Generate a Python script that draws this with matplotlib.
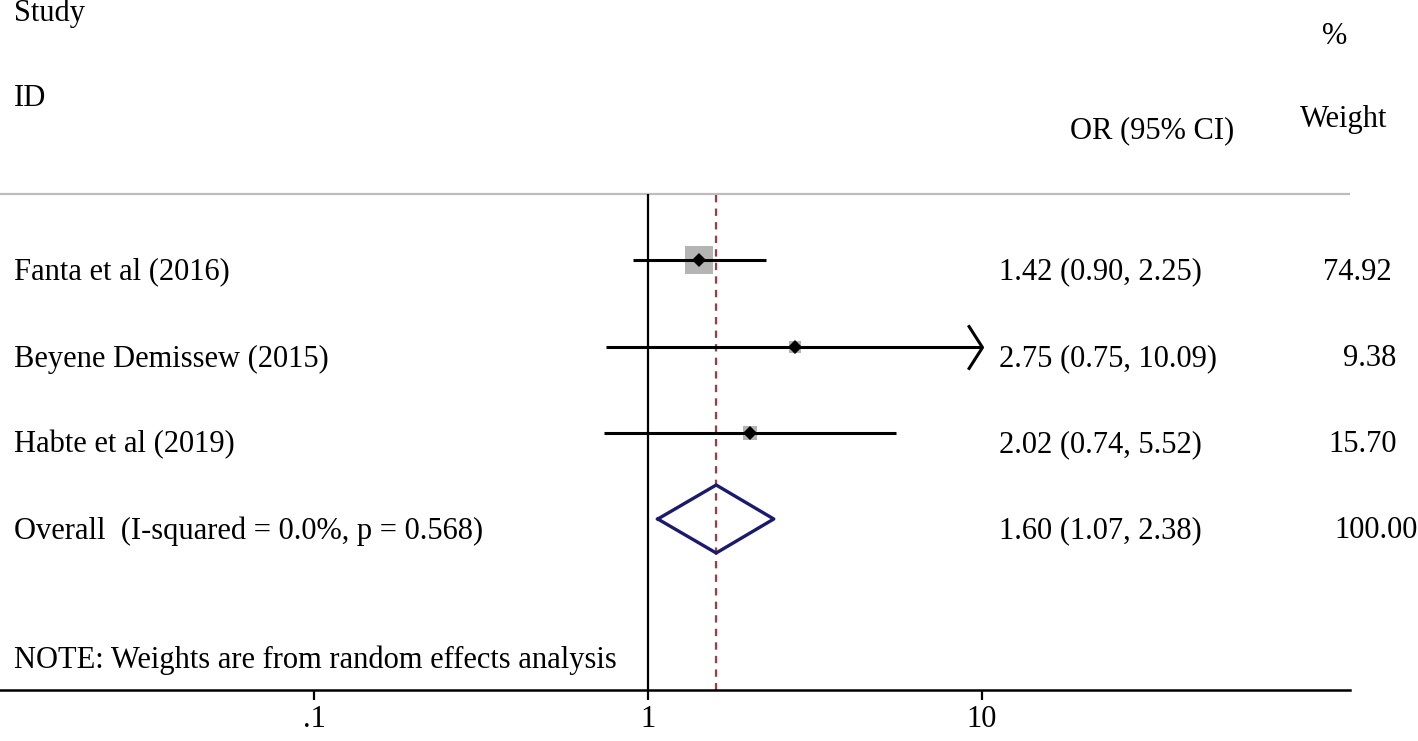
import numpy as np
import matplotlib
matplotlib.use('Agg')
import matplotlib.pyplot as plt

# Data
studies = ['Fanta et al (2016)', 'Beyene Demissew (2015)', 'Habte et al (2019)']
odds_ratio = [1.42, 2.75, 2.02]
ci_low = [0.90, 0.75, 0.74]
ci_high = [2.25, 10.09, 5.52]
weights = [74.92, 9.38, 15.70]
overall_label = 'Overall  (I-squared = 0.0%, p = 0.568)'
overall_or = 1.60
overall_low = 1.07
overall_high = 2.38
overall_weight = 100.00
tick_values = [0.1, 1, 10]
tick_labels = ['.1', '1', '10']

W, H = 1418, 741
plt.rcParams['font.family'] = ['Liberation Serif', 'DejaVu Serif']
fs = 22

fig = plt.figure(figsize=(W / 100, H / 100), dpi=100)
# axes: x in odds ratio (log), y in pixels from the top, bottom spine at y=690
ax = fig.add_axes([0, (H - 690) / H, 1, 690 / H])
ax.set_xscale('log')
decade = 334.0
x0 = 648.0
ax.set_xlim(10 ** (-x0 / decade), 10 ** ((W - x0) / decade))
ax.set_ylim(690, 0)
ax.patch.set_alpha(0)

for s in ['top', 'left', 'right']:
    ax.spines[s].set_visible(False)
ax.spines['bottom'].set_linewidth(1.8)
ax.spines['bottom'].set_bounds(10 ** (-x0 / decade), 10 ** ((1350 - x0) / decade))
ax.set_xticks(tick_values)
ax.set_xticklabels(tick_labels)
ax.xaxis.set_minor_locator(matplotlib.ticker.NullLocator())
ax.tick_params(axis='x', length=7, width=1.6, pad=4, labelsize=fs)
ax.set_yticks([])

def px(x, y):
    return x / W, 1 - y / H

# header
fig.text(*px(14, 13), 'Study', fontsize=fs, va='center', ha='left')
fig.text(*px(14, 99), 'ID', fontsize=fs, va='center', ha='left')
fig.text(*px(1335, 37), '%', fontsize=fs, va='center', ha='center')
fig.text(*px(1344, 120), 'Weight', fontsize=fs, va='center', ha='center')
fig.text(*px(1070, 131), 'OR (95% CI)', fontsize=fs, va='center', ha='left')
ax.hlines(194, 10 ** (-x0 / decade), 10 ** ((1350 - x0) / decade),
          color='#BDBDBD', lw=1.6, clip_on=False)

# reference lines
ax.vlines(1, 194, 690, color='black', lw=1.6)
ax.vlines(overall_or, 195, 690, color='#9E3B45', lw=1.6,
          linestyles=(0, (3.3, 2.8)))

rows = [260, 347, 433]
weight_right = [1392, 1396, 1397]
xmax_plot = 10
chevron = [(-0.64, 1), (0, 0), (-0.64, -1)]
for i, y in enumerate(rows):
    hi = min(ci_high[i], xmax_plot)
    ax.plot([ci_low[i], hi], [y, y], color='black', lw=2.2, solid_capstyle='butt', zorder=3)
    if ci_high[i] > xmax_plot:
        ax.plot([xmax_plot], [y], marker=chevron, markersize=32, color='black',
                markerfacecolor='none', markeredgewidth=2.2, zorder=3)
    ax.plot([odds_ratio[i]], [y], marker='s', markersize=2.2 * np.sqrt(weights[i]) + 1.8,
            color='#B4B4B4', markeredgewidth=0, zorder=2)
    ax.plot([odds_ratio[i]], [y], marker='D', markersize=7, color='black',
            markeredgewidth=0, zorder=4)
    fig.text(*px(14, y + 12), studies[i], fontsize=fs, va='center', ha='left')
    fig.text(*px(999, y + 12), f'{odds_ratio[i]:.2f} ({ci_low[i]:.2f}, {ci_high[i]:.2f})',
             fontsize=fs, va='center', ha='left')
    fig.text(*px(weight_right[i], y + 12), f'{weights[i]:.2f}', fontsize=fs,
             va='center', ha='right')

# overall diamond
yo = 519
half_h = 34
ax.plot([overall_low, overall_or, overall_high, overall_or, overall_low],
        [yo, yo - half_h, yo, yo + half_h, yo], color='#1A1A6E', lw=2.4, zorder=3)
fig.text(*px(14, yo + 12), overall_label, fontsize=fs, va='center', ha='left')
fig.text(*px(999, yo + 12), f'{overall_or:.2f} ({overall_low:.2f}, {overall_high:.2f})',
         fontsize=fs, va='center', ha='left')
fig.text(*px(1418, yo + 12), f'{overall_weight:.2f}', fontsize=fs, va='center', ha='right')

fig.text(*px(14, 660), 'NOTE: Weights are from random effects analysis',
         fontsize=fs, va='center', ha='left')

fig.savefig('out.png', dpi=100)
